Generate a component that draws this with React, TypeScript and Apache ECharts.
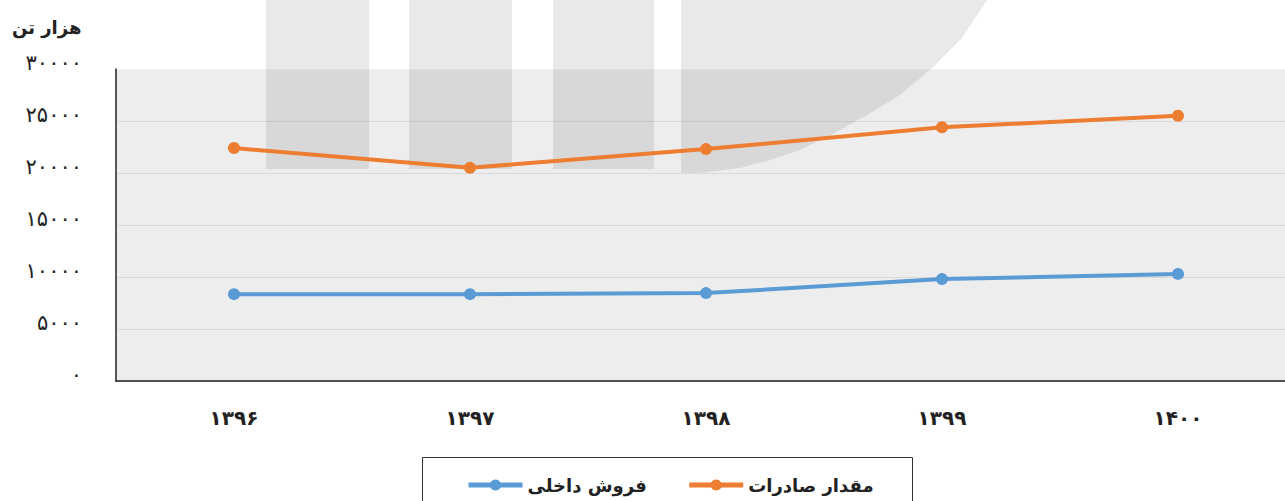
import React, { useEffect, useRef } from "react";
import * as echarts from "echarts";

const years = ["1396", "1397", "1398", "1399", "1400"];
const exportsSeries = [22400, 20500, 22300, 24400, 25500];
const domesticSeries = [8350, 8350, 8450, 9800, 10300];
const seriesNames = ["فروش داخلی", "مقدار صادرات"];
const unitTitle = "هزار تن";

const faDigits = "۰۱۲۳۴۵۶۷۸۹";
const toFa = (s: string | number) => String(s).replace(/[0-9]/g, (d) => faDigits[Number(d)]);

const FONT = "'DejaVu Sans', sans-serif";
const wm = "rgba(0,0,0,0.085)";

export default function App() {
  const ref = useRef<HTMLDivElement>(null);
  useEffect(() => {
    document.body.style.margin = "0";
    document.body.style.overflow = "hidden";
    document.documentElement.style.overflow = "hidden";
    const chart = echarts.init(ref.current!, null, { renderer: "svg" });
    chart.setOption({
      animation: false,
      textStyle: { fontFamily: FONT },
      title: {
        text: unitTitle,
        left: 7,
        top: 13,
        textStyle: { fontFamily: FONT, fontSize: 18, fontWeight: "bold", color: "#222" },
      },
      grid: {
        left: 116,
        right: 0,
        top: 69,
        bottom: 120,
        show: true,
        backgroundColor: "#ededed",
        borderWidth: 0,
      },
      legend: {
        data: seriesNames,
        left: 461,
        top: 471,
        itemWidth: 54,
        itemHeight: 14,
        itemGap: 40,
        lineStyle: { width: 5 },
        textStyle: { fontFamily: FONT, fontSize: 18, fontWeight: "bold", color: "#222" },
      },
      graphic: [
        { type: "rect", z: 1, silent: true, shape: { x: 266, y: 0, width: 103, height: 169 }, style: { fill: wm } },
        { type: "rect", z: 1, silent: true, shape: { x: 409, y: 0, width: 103, height: 169 }, style: { fill: wm } },
        { type: "rect", z: 1, silent: true, shape: { x: 553, y: 0, width: 101, height: 169 }, style: { fill: wm } },
        {
          type: "polygon",
          z: 1,
          silent: true,
          shape: {
            points: [
              [681, 0], [987, 0], [962, 38], [930, 70], [900, 95], [867, 115], [835, 133],
              [800, 150], [770, 160], [740, 168], [700, 173], [681, 173],
            ],
          },
          style: { fill: wm },
        },
        {
          type: "rect",
          z: 10,
          silent: true,
          shape: { x: 422.5, y: 457.5, width: 490, height: 60 },
          style: { fill: "none", stroke: "#333", lineWidth: 1 },
        },
      ],
      xAxis: {
        type: "category",
        data: years,
        boundaryGap: true,
        axisLine: { lineStyle: { color: "#222", width: 1.5 } },
        axisTick: { show: false },
        axisLabel: {
          margin: 27,
          fontFamily: FONT,
          fontSize: 20,
          fontWeight: "bold",
          color: "#222",
          formatter: (v: string) => toFa(v),
        },
      },
      yAxis: {
        type: "value",
        min: 0,
        max: 30000,
        interval: 5000,
        axisLine: { show: true, lineStyle: { color: "#222", width: 1.5 } },
        axisTick: { show: false },
        splitLine: {
          lineStyle: {
            color: ["#d9d9d9", "#d9d9d9", "#d9d9d9", "#d9d9d9", "#d9d9d9", "#d9d9d9", "#f4f4f4"],
            width: 1,
          },
        },
        axisLabel: {
          margin: 34,
          fontFamily: FONT,
          fontSize: 21,
          color: "#222",
          verticalAlign: "bottom",
          lineHeight: 12,
          formatter: (v: number) => toFa(v),
        },
      },
      series: [
        {
          name: seriesNames[0],
          type: "line",
          data: domesticSeries,
          z: 3,
          symbol: "circle",
          symbolSize: 12,
          lineStyle: { width: 4, color: "#5B9BD5" },
          itemStyle: { color: "#5B9BD5" },
        },
        {
          name: seriesNames[1],
          type: "line",
          data: exportsSeries,
          z: 3,
          symbol: "circle",
          symbolSize: 12,
          lineStyle: { width: 4, color: "#ED7D31" },
          itemStyle: { color: "#ED7D31" },
        },
      ],
    });
    return () => chart.dispose();
  }, []);
  return <div ref={ref} style={{ width: 1296, height: 501 }} />;
}
